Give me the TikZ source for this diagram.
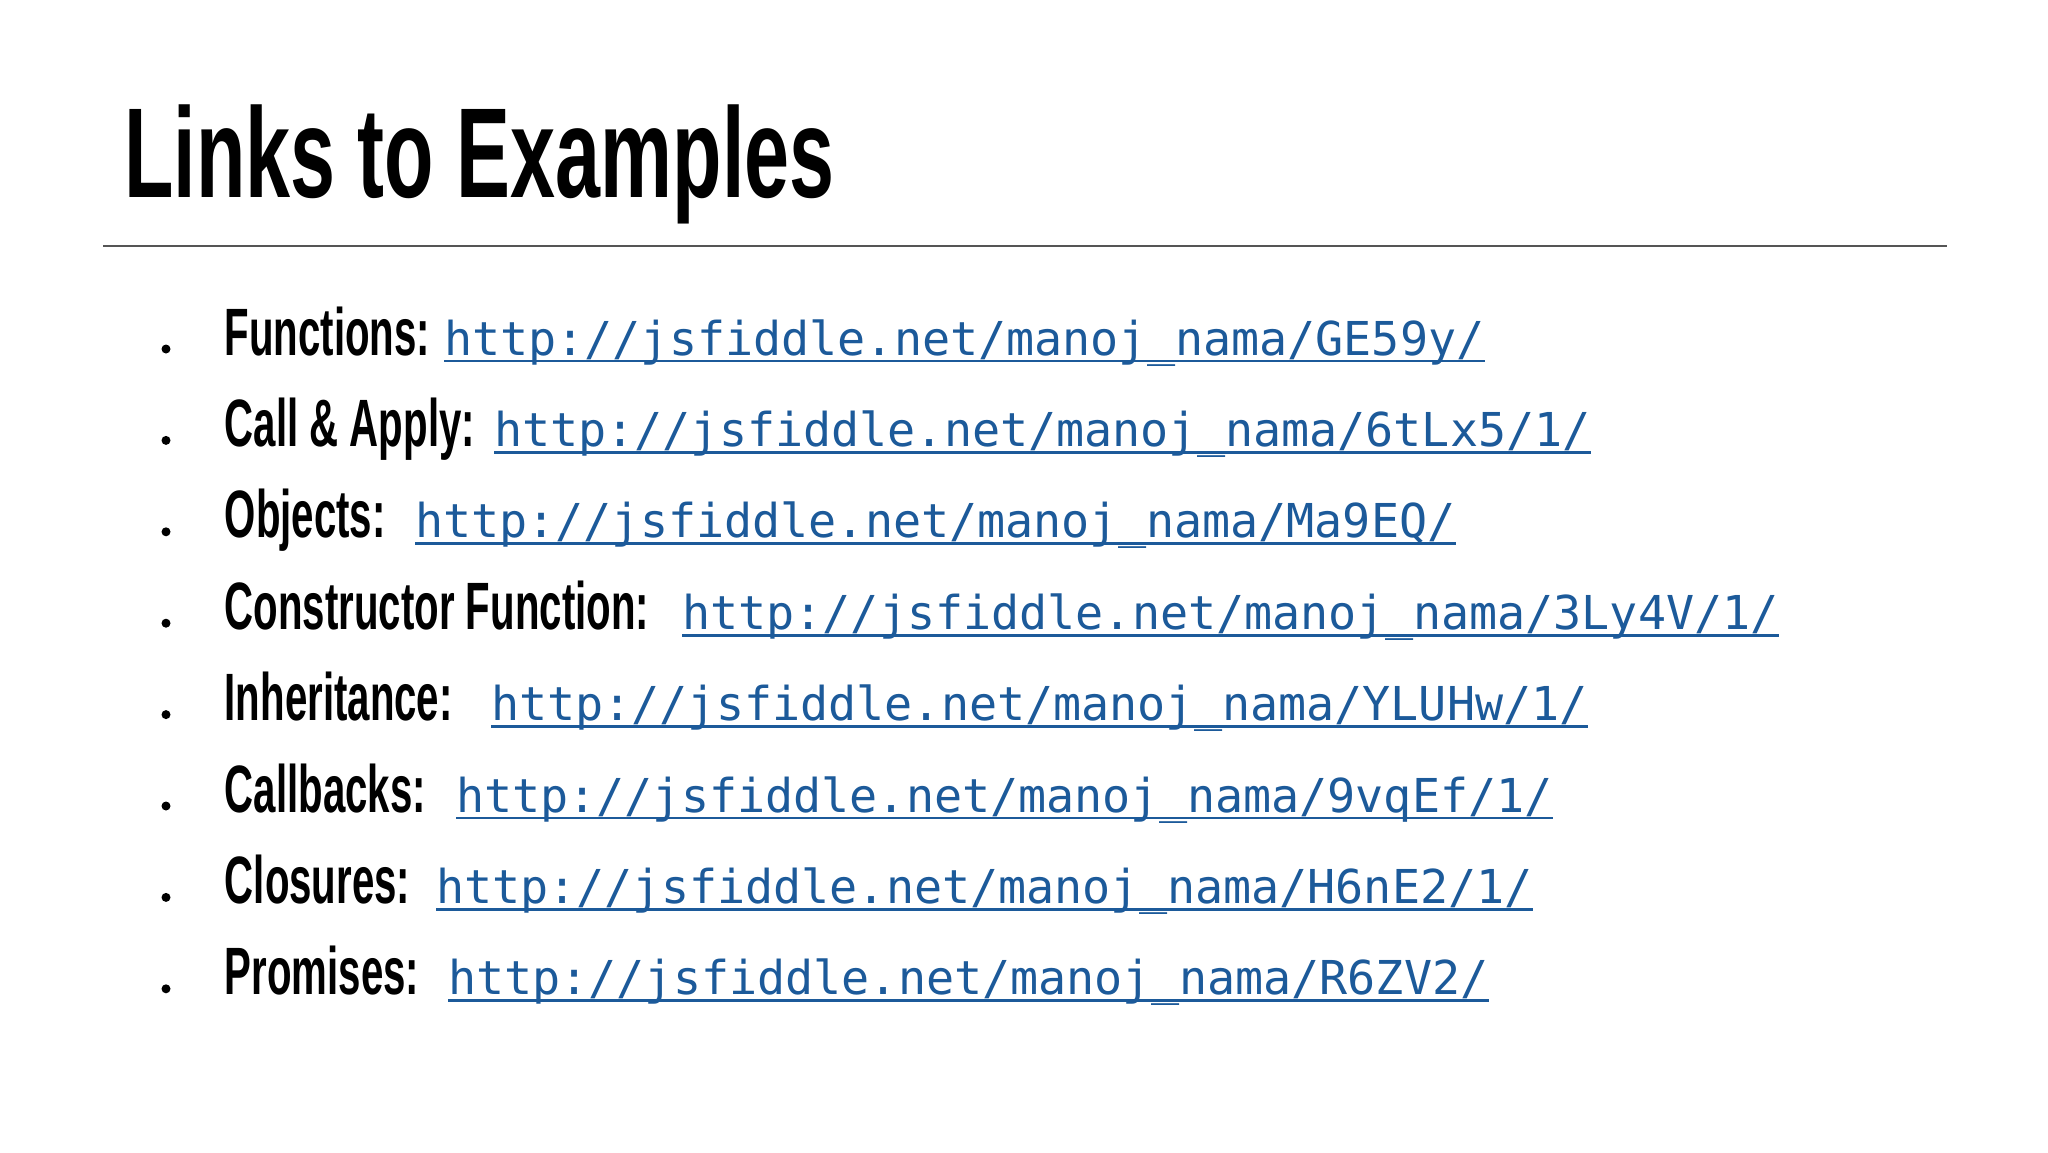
\documentclass[tikz,border=0pt]{standalone}
\usepackage{fontspec}
\newfontfamily\titlefont{Liberation Sans}[FakeStretch=0.632]
\newfontfamily\labfont{Liberation Sans}[FakeStretch=0.6]
\newfontfamily\urlfont{DejaVu Sans Mono}
\definecolor{urlblue}{HTML}{1C5A9A}
\definecolor{rulegray}{HTML}{555555}
\tikzset{
  titletext/.style={inner sep=0pt, anchor=base west, font=\titlefont\bfseries\fontsize{128}{150}\selectfont},
  labtext/.style={inner sep=0pt, anchor=base west, font=\labfont\bfseries\fontsize{67}{80}\selectfont},
  urltext/.style={inner sep=0pt, anchor=base west, text=urlblue, font=\urlfont\fontsize{46.7}{56}\selectfont},
  bulletdot/.style={circle, fill=black, inner sep=0pt, minimum size=9pt},
  underl/.style={draw=urlblue, line width=2.8pt},
}
\begin{document}
\begin{tikzpicture}[x=1pt,y=1pt]
\useasboundingbox[fill=white] (0,0) rectangle (2048,-1152);
\node[titletext] (title) at (124,-197) {Links to Examples};
\coordinate (rl) at (103,-245.5);
\coordinate (rr) at (1947,-245.5);
\draw[rulegray, line width=2pt] (rl) -- (rr);
\foreach \i/\lab/\ux/\url in {
  0/{Functions:}/444/{http://jsfiddle.net/manoj\_nama/GE59y/},
  1/{Call \& Apply:}/494/{http://jsfiddle.net/manoj\_nama/6tLx5/1/},
  2/{Objects:}/415/{http://jsfiddle.net/manoj\_nama/Ma9EQ/},
  3/{Constructor Function:}/682/{http://jsfiddle.net/manoj\_nama/3Ly4V/1/},
  4/{Inheritance:}/491/{http://jsfiddle.net/manoj\_nama/YLUHw/1/},
  5/{Callbacks:}/456/{http://jsfiddle.net/manoj\_nama/9vqEf/1/},
  6/{Closures:}/436/{http://jsfiddle.net/manoj\_nama/H6nE2/1/},
  7/{Promises:}/448/{http://jsfiddle.net/manoj\_nama/R6ZV2/}}{
  \pgfmathsetmacro{\by}{-355-91.4*\i}
  \node[bulletdot] (b\i) at (166,\by+6) {};
  \node[labtext] (l\i) at (224.6,\by) {\lab};
  \node[urltext] (u\i) at (\ux,\by) {\url};
  \draw[underl] ([yshift=-6pt]u\i.base west) -- ([yshift=-6pt]u\i.base east);
}
\end{tikzpicture}
\end{document}
